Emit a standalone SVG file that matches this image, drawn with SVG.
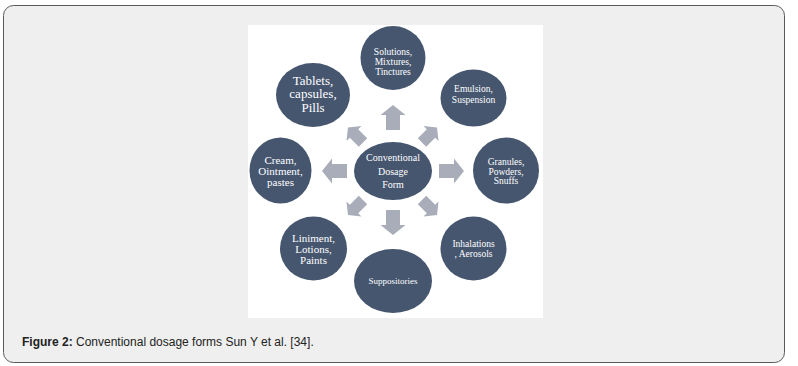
<svg xmlns="http://www.w3.org/2000/svg" width="798" height="366" viewBox="0 0 798 366">
<defs>
<style>
.node{fill:#46566f}
.lbl{fill:#ffffff;font-family:"Liberation Serif","Times New Roman",serif;text-anchor:middle}
.arr{fill:#a8adb9}
.cap{font-family:"Liberation Sans",Arial,sans-serif;font-size:12px;fill:#222}
</style>
<path id="ar" d="M0,-12.5 L12.5,-2.5 L7,-2.5 L7,12.5 L-7,12.5 L-7,-2.5 L-12.5,-2.5 Z"/>
</defs>
<rect x="0" y="0" width="798" height="366" fill="#ffffff"/>
<rect x="3.5" y="5.5" width="781" height="357" rx="10" ry="10" fill="#efefef" stroke="#5a5a5a" stroke-width="1"/>
<rect x="248" y="25" width="295" height="293" fill="#ffffff"/>
<g id="connectors">
<use href="#ar" class="arr" transform="translate(393,117.5)"/>
<use href="#ar" class="arr" transform="translate(393,222.5) rotate(180)"/>
<use href="#ar" class="arr" transform="translate(334.5,171) rotate(-90)"/>
<use href="#ar" class="arr" transform="translate(451.5,171) rotate(90)"/>
<use href="#ar" class="arr" transform="translate(355.5,135) rotate(-45) scale(0.85)"/>
<use href="#ar" class="arr" transform="translate(429.5,135) rotate(45) scale(0.85)"/>
<use href="#ar" class="arr" transform="translate(355.5,207.5) rotate(-135) scale(0.85)"/>
<use href="#ar" class="arr" transform="translate(429.5,207.5) rotate(135) scale(0.85)"/>
</g>
<g id="center">
<ellipse class="node" cx="393" cy="171" rx="39" ry="29"/>
<text class="lbl" font-size="10"><tspan x="393" y="161">Conventional</tspan><tspan x="393" y="174.5">Dosage</tspan><tspan x="393" y="188">Form</tspan></text>
</g>
<g id="solutions">
<ellipse class="node" cx="393" cy="58" rx="32.5" ry="32"/>
<text class="lbl" font-size="9.5"><tspan x="393" y="55">Solutions,</tspan><tspan x="393" y="65">Mixtures,</tspan><tspan x="393" y="74.5">Tinctures</tspan></text>
</g>
<g id="tablets">
<ellipse class="node" cx="313" cy="95" rx="37" ry="32"/>
<text class="lbl" font-size="13"><tspan x="313" y="84.5">Tablets,</tspan><tspan x="313" y="98">capsules,</tspan><tspan x="313" y="111.5">Pills</tspan></text>
</g>
<g id="emulsion">
<ellipse class="node" cx="473.5" cy="98" rx="33" ry="28.5"/>
<text class="lbl" font-size="9.5"><tspan x="473.5" y="91.5">Emulsion,</tspan><tspan x="473.5" y="102.5">Suspension</tspan></text>
</g>
<g id="cream">
<ellipse class="node" cx="280.5" cy="170.5" rx="31" ry="33"/>
<text class="lbl" font-size="11"><tspan x="280.5" y="164">Cream,</tspan><tspan x="280.5" y="175">Ointment,</tspan><tspan x="280.5" y="186">pastes</tspan></text>
</g>
<g id="granules">
<ellipse class="node" cx="506" cy="170.5" rx="33" ry="33"/>
<text class="lbl" font-size="9.5"><tspan x="506" y="164.5">Granules,</tspan><tspan x="506" y="174.5">Powders,</tspan><tspan x="506" y="184">Snuffs</tspan></text>
</g>
<g id="liniment">
<ellipse class="node" cx="313.5" cy="248.5" rx="33.5" ry="32"/>
<text class="lbl" font-size="11"><tspan x="313.5" y="242">Liniment,</tspan><tspan x="313.5" y="253">Lotions,</tspan><tspan x="313.5" y="264">Paints</tspan></text>
</g>
<g id="suppositories">
<ellipse class="node" cx="393" cy="281" rx="39" ry="32"/>
<text class="lbl" font-size="9"><tspan x="393" y="283.5">Suppositories</tspan></text>
</g>
<g id="inhalations">
<ellipse class="node" cx="473.5" cy="248.5" rx="33" ry="32"/>
<text class="lbl" font-size="9.5"><tspan x="473.5" y="246.5">Inhalations</tspan><tspan x="473.5" y="256.5">, Aerosols</tspan></text>
</g>
<text class="cap" x="22" y="346"><tspan font-weight="bold">Figure 2:</tspan> Conventional dosage forms Sun Y et al. [34].</text>
</svg>
